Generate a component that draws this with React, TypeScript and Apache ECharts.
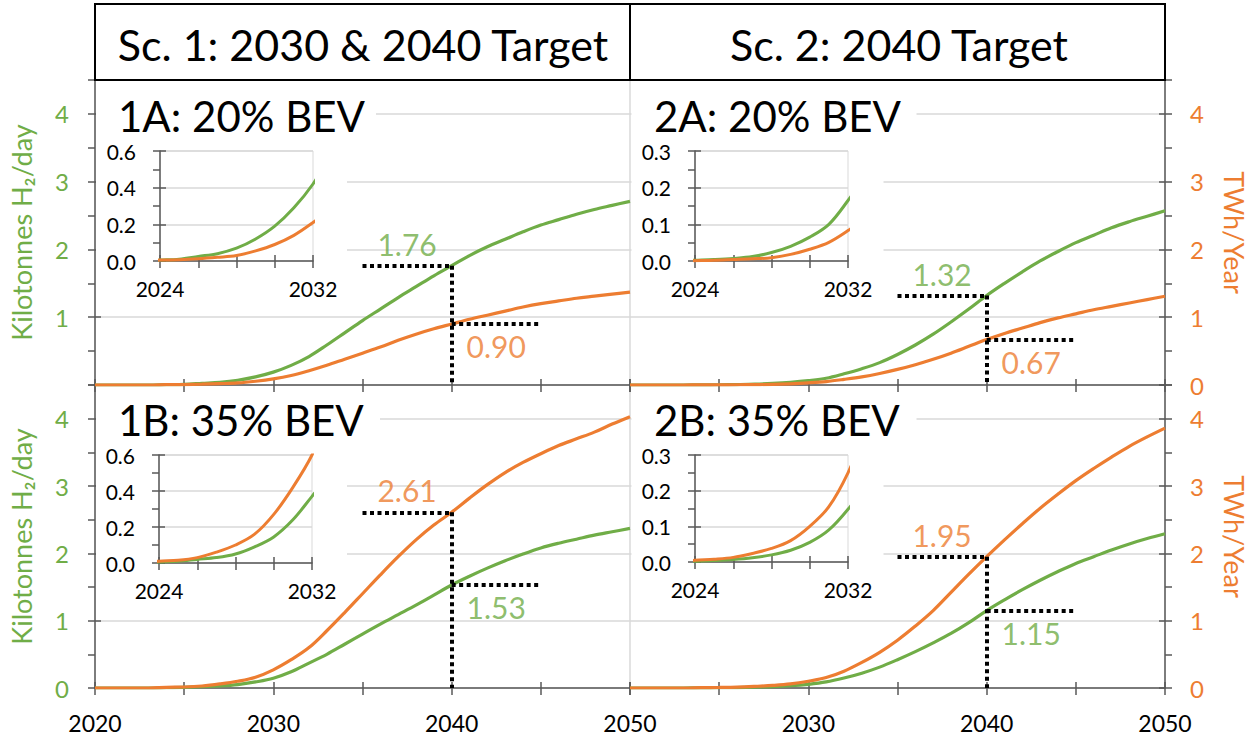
import React, { useEffect, useRef } from 'react';
import * as echarts from 'echarts';

// ---------------- DATA ----------------
const years = [2020, 2021, 2022, 2023, 2024, 2025, 2026, 2027, 2028, 2029, 2030, 2031, 2032, 2033, 2034, 2035, 2036, 2037, 2038, 2039, 2040, 2041, 2042, 2043, 2044, 2045, 2046, 2047, 2048, 2049, 2050];

// Kilotonnes H2/day (green) and TWh/Year (orange)
const green1A = [0, 0, 0, 0, 0.005, 0.01, 0.025, 0.04, 0.07, 0.12, 0.19, 0.29, 0.42, 0.59, 0.77, 0.95, 1.12, 1.29, 1.45, 1.61, 1.76, 1.91, 2.04, 2.15, 2.26, 2.36, 2.44, 2.52, 2.59, 2.65, 2.71];
const orange1A = [0, 0, 0, 0, 0.005, 0.007, 0.012, 0.02, 0.03, 0.055, 0.09, 0.14, 0.21, 0.29, 0.38, 0.47, 0.56, 0.66, 0.75, 0.83, 0.9, 0.97, 1.03, 1.09, 1.15, 1.2, 1.24, 1.28, 1.31, 1.34, 1.37];
const green1B = [0, 0, 0, 0, 0.005, 0.01, 0.02, 0.03, 0.05, 0.09, 0.145, 0.24, 0.37, 0.5, 0.65, 0.8, 0.95, 1.09, 1.23, 1.38, 1.53, 1.66, 1.78, 1.89, 1.99, 2.08, 2.15, 2.21, 2.27, 2.32, 2.37];
const orange1B = [0, 0, 0, 0, 0.01, 0.015, 0.03, 0.06, 0.1, 0.16, 0.27, 0.42, 0.6, 0.85, 1.12, 1.4, 1.68, 1.95, 2.2, 2.42, 2.61, 2.82, 3.02, 3.2, 3.35, 3.48, 3.6, 3.7, 3.8, 3.92, 4.03];
const green2A = [0, 0, 0, 0, 0.002, 0.004, 0.007, 0.012, 0.023, 0.04, 0.065, 0.1, 0.165, 0.24, 0.33, 0.45, 0.59, 0.75, 0.93, 1.12, 1.32, 1.5, 1.67, 1.83, 1.97, 2.1, 2.21, 2.32, 2.41, 2.49, 2.57];
const orange2A = [0, 0, 0, 0, 0.001, 0.002, 0.004, 0.006, 0.009, 0.018, 0.032, 0.051, 0.083, 0.12, 0.17, 0.23, 0.3, 0.38, 0.47, 0.57, 0.67, 0.76, 0.84, 0.92, 0.99, 1.05, 1.11, 1.16, 1.21, 1.26, 1.31];
const green2B = [0, 0, 0, 0, 0.002, 0.004, 0.007, 0.012, 0.02, 0.033, 0.055, 0.09, 0.148, 0.22, 0.31, 0.42, 0.54, 0.67, 0.81, 0.97, 1.15, 1.31, 1.46, 1.6, 1.73, 1.85, 1.95, 2.05, 2.14, 2.22, 2.29];
const orange2B = [0, 0, 0, 0, 0.005, 0.008, 0.013, 0.024, 0.038, 0.06, 0.1, 0.155, 0.25, 0.38, 0.53, 0.71, 0.92, 1.15, 1.42, 1.69, 1.95, 2.2, 2.44, 2.67, 2.88, 3.08, 3.26, 3.43, 3.59, 3.73, 3.86];

const panelNames = ['1A: 20% BEV', '1B: 35% BEV', '2A: 20% BEV', '2B: 35% BEV'];
const scenarioTitles = ['Sc. 1: 2030 & 2040 Target', 'Sc. 2: 2040 Target'];
const mainXLabels = [2020, 2030, 2040, 2050];
const mainYLabels = [0, 1, 2, 3, 4];
const insetXLabels = [2024, 2032];
const insetMaxes = [0.6, 0.6, 0.3, 0.3];
const insetSteps = [0.2, 0.2, 0.1, 0.1];
const targetYear = 2040;
const targetFromYear = 2035;
const targetToYear = 2045;
const leftAxisName = 'Kilotonnes H\u2082/day';
const rightAxisName = 'TWh/Year';

// ---------------- STYLE ----------------
const GREEN = '#70AD47';
const ORANGE = '#ED7D31';
const AXIS = '#595959';
const GRIDC = '#D9D9D9';
const FONT = 'Lato, "Noto Sans", sans-serif';

const panelLayout = [
  { grid: { left: 95, top: 80, width: 535, height: 305 }, inset: { left: 160, top: 151, width: 153, height: 110 }, side: 'left', bottom: false, hideZero: true, label: [118, 116], whites: [[96, 88, 280, 52], [96, 140, 251, 168]] },
  { grid: { left: 95, top: 385, width: 535, height: 303 }, inset: { left: 159, top: 455, width: 153, height: 108 }, side: 'left', bottom: true, hideZero: false, label: [118, 420], whites: [[96, 392, 284, 53], [96, 445, 251, 165]] },
  { grid: { left: 630, top: 80, width: 535, height: 305 }, inset: { left: 695, top: 151, width: 153, height: 110 }, side: 'right', bottom: false, hideZero: false, label: [654, 116], whites: [[631.5, 88, 285, 52], [631.5, 140, 252, 168]] },
  { grid: { left: 630, top: 385, width: 535, height: 303 }, inset: { left: 695, top: 455, width: 153, height: 107 }, side: 'right', bottom: true, hideZero: false, label: [654, 420], whites: [[631.5, 392, 285, 53], [631.5, 445, 252, 165]] },
];
const panelData = [
  [green1A, orange1A],
  [green1B, orange1B],
  [green2A, orange2A],
  [green2B, orange2B],
];

function near(a: number, b: number) {
  return Math.abs(a - b) < 1e-6;
}

function buildOption() {
  const grid: any[] = [];
  const xAxis: any[] = [];
  const yAxis: any[] = [];
  const series: any[] = [];
  const graphic: any[] = [];

  panelLayout.forEach((p, i) => {
    const [g, o] = panelData[i];
    const tIdx = years.indexOf(targetYear);
    const gv = g[tIdx];
    const ov = o[tIdx];
    const hi = Math.max(gv, ov);
    const lo = Math.min(gv, ov);
    const hiColor = gv >= ov ? GREEN : ORANGE;
    const loColor = gv >= ov ? ORANGE : GREEN;

    // ---- main grid ----
    const gi = grid.length;
    grid.push({ ...p.grid, show: true, borderColor: GRIDC, borderWidth: 1, backgroundColor: 'transparent', z: 0 });
    const xa = xAxis.length;
    xAxis.push({
      gridIndex: gi, type: 'value', min: 2020, max: 2050, interval: 5, position: 'bottom', z: 1,
      axisLine: { show: true, onZero: false, lineStyle: { color: AXIS, width: 1.5 } },
      axisTick: { show: true, length: 7, lineStyle: { color: AXIS, width: 1.5 } },
      axisLabel: {
        show: p.bottom, margin: 23, fontSize: 23, fontFamily: FONT, color: '#000',
        formatter: (v: number) => (mainXLabels.includes(v) && !(p.side === 'right' && v === 2020) ? String(v) : ''),
      },
      splitLine: { show: false },
    });
    xAxis.push({
      gridIndex: gi, type: 'value', min: 2020, max: 2050, interval: 5, position: 'bottom', z: 1,
      axisLine: { show: false, onZero: false },
      axisTick: { show: true, inside: true, length: 6, lineStyle: { color: AXIS, width: 1.5 } },
      axisLabel: { show: false },
      splitLine: { show: false },
    });
    const ya = yAxis.length;
    const isLeft = p.side === 'left';
    yAxis.push({
      gridIndex: gi, type: 'value', min: 0, max: 4.5, interval: 0.5, position: p.side, z: 1,
      axisLine: { show: true, onZero: false, lineStyle: { color: AXIS, width: 1.5 } },
      axisTick: { show: true, length: 7, lineStyle: { color: AXIS, width: 1.5 } },
      axisLabel: {
        show: true, margin: isLeft ? 26 : 25, fontSize: 24, fontFamily: FONT, color: isLeft ? GREEN : ORANGE,
        formatter: (v: number) => {
          const ok = mainYLabels.some((t) => near(t, v));
          if (!ok) return '';
          if (p.hideZero && near(v, 0)) return '';
          return String(Math.round(v));
        },
      },
      splitLine: { show: false },
      name: isLeft ? leftAxisName : rightAxisName,
      nameLocation: 'middle',
      nameGap: isLeft ? 60 : 56,
      nameRotate: isLeft ? 90 : -90,
      nameTextStyle: { color: isLeft ? GREEN : ORANGE, fontSize: 27, fontFamily: FONT },
    });
    yAxis.push({
      gridIndex: gi, type: 'value', min: 0, max: 4.5, interval: 1, position: p.side, z: 1,
      axisLine: { show: false, onZero: false },
      axisTick: { show: true, inside: true, length: 6, lineStyle: { color: AXIS, width: 1.5 } },
      axisLabel: { show: false },
      splitLine: { show: true, lineStyle: { color: GRIDC, width: 1.5 } },
    });

    const toPairs = (arr: number[]) => years.map((y, k) => [y, arr[k]]);
    series.push({
      type: 'line', xAxisIndex: xa, yAxisIndex: ya, data: toPairs(g), showSymbol: false, symbol: 'none',
      smooth: 0.35, color: GREEN, lineStyle: { color: GREEN, width: 3.2 }, z: 4, silent: true,
    });
    series.push({
      type: 'line', xAxisIndex: xa, yAxisIndex: ya, data: toPairs(o), showSymbol: false, symbol: 'none',
      smooth: 0.35, color: ORANGE, lineStyle: { color: ORANGE, width: 3.2 }, z: 4, silent: true,
      markLine: {
        silent: true, symbol: ['none', 'none'], animation: false,
        label: { show: false },
        lineStyle: { color: '#000', width: 4, type: [4, 3.5], cap: 'butt', opacity: 1 },
        emphasis: { disabled: true },
        data: [
          [{ coord: [targetFromYear, hi] }, { coord: [targetYear, hi] }],
          [{ coord: [targetYear, hi] }, { coord: [targetYear, 0] }],
          [{ coord: [targetYear, lo] }, { coord: [targetToYear, lo] }],
        ],
      },
    });
    series.push({
      type: 'scatter', xAxisIndex: xa, yAxisIndex: ya, symbolSize: 0, z: 8, silent: true,
      data: [
        { value: [(targetFromYear + targetYear) / 2, hi], label: { position: 'top', color: hiColor } },
        { value: [(targetYear + targetToYear) / 2, lo], label: { position: 'bottom', color: loColor } },
      ],
      label: {
        show: true, distance: 7, fontSize: 30, fontFamily: FONT,
        formatter: (d: any) => d.value[1].toFixed(2),
      },
    });

    // ---- white backgrounds behind panel label / inset ----
    p.whites.forEach((r) => {
      graphic.push({ type: 'rect', z: 3, silent: true, shape: { x: r[0], y: r[1], width: r[2], height: r[3] }, style: { fill: '#fff' } });
    });

    // ---- panel label ----
    graphic.push({
      type: 'text', z: 9, silent: true, x: p.label[0], y: p.label[1],
      style: { text: panelNames[i], fill: '#000', font: `42px ${FONT}`, align: 'left', verticalAlign: 'middle', textAlign: 'left', textVerticalAlign: 'middle' },
    });

    // ---- inset ----
    const ig = grid.length;
    grid.push({ ...p.inset, show: true, borderColor: GRIDC, borderWidth: 1, backgroundColor: '#fff', z: 5 });
    const ixa = xAxis.length;
    const ixCommon = { gridIndex: ig, type: 'value', min: 2024, max: 2032, interval: 2, position: 'bottom', z: 6 };
    xAxis.push({
      ...ixCommon,
      axisLine: { show: true, onZero: false, lineStyle: { color: AXIS, width: 1.5 } },
      axisTick: { show: true, length: 7, lineStyle: { color: AXIS, width: 1.5 } },
      axisLabel: {
        show: true, margin: 17, fontSize: 21, fontFamily: FONT, color: '#000',
        formatter: (v: number) => (insetXLabels.includes(v) ? String(v) : ''),
      },
      splitLine: { show: false },
    });
    xAxis.push({
      ...ixCommon,
      axisLine: { show: false, onZero: false },
      axisTick: { show: true, inside: true, length: 6, lineStyle: { color: AXIS, width: 1.5 } },
      axisLabel: { show: false },
      splitLine: { show: false },
    });
    const iya = yAxis.length;
    const step = insetSteps[i];
    const imax = insetMaxes[i];
    yAxis.push({
      gridIndex: ig, type: 'value', min: 0, max: imax, interval: step / 2, position: 'left', z: 6,
      axisLine: { show: true, onZero: false, lineStyle: { color: AXIS, width: 1.5 } },
      axisTick: { show: true, length: 7, lineStyle: { color: AXIS, width: 1.5 } },
      axisLabel: {
        show: true, margin: 24, fontSize: 21, fontFamily: FONT, color: '#000',
        formatter: (v: number) => (near(v / step, Math.round(v / step)) ? v.toFixed(1) : ''),
      },
      splitLine: { show: false },
    });
    yAxis.push({
      gridIndex: ig, type: 'value', min: 0, max: imax, interval: step, position: 'left', z: 6,
      axisLine: { show: false, onZero: false },
      axisTick: { show: true, inside: true, length: 6, lineStyle: { color: AXIS, width: 1.5 } },
      axisLabel: { show: false },
      splitLine: { show: true, lineStyle: { color: GRIDC, width: 1.5 } },
    });
    series.push({
      type: 'line', xAxisIndex: ixa, yAxisIndex: iya, data: toPairs(g), showSymbol: false, symbol: 'none',
      smooth: 0.35, clip: true, color: GREEN, lineStyle: { color: GREEN, width: 3 }, z: 7, silent: true,
    });
    series.push({
      type: 'line', xAxisIndex: ixa, yAxisIndex: iya, data: toPairs(o), showSymbol: false, symbol: 'none',
      smooth: 0.35, clip: true, color: ORANGE, lineStyle: { color: ORANGE, width: 3 }, z: 7, silent: true,
    });
  });

  // ---- scenario title boxes ----
  const boxes = [
    { x: 95, cx: 363 },
    { x: 630, cx: 899 },
  ];
  boxes.forEach((b, k) => {
    graphic.push({
      type: 'rect', z: 9, silent: true, shape: { x: b.x, y: 4, width: 535, height: 76 },
      style: { fill: 'none', stroke: '#000', lineWidth: 2 },
    });
    graphic.push({
      type: 'text', z: 9, silent: true, x: b.cx, y: 44,
      style: { text: scenarioTitles[k], fill: '#000', font: `43px ${FONT}`, align: 'center', verticalAlign: 'middle', textAlign: 'center', textVerticalAlign: 'middle' },
    });
  });

  return {
    animation: false,
    backgroundColor: '#fff',
    textStyle: { fontFamily: FONT },
    grid, xAxis, yAxis, series, graphic,
  };
}

export default function App() {
  const ref = useRef<HTMLDivElement>(null);
  useEffect(() => {
    if (!ref.current) return;
    const chart = echarts.init(ref.current, undefined, { renderer: 'svg' });
    chart.setOption(buildOption() as any);
    return () => chart.dispose();
  }, []);
  return <div ref={ref} style={{ position: 'fixed', left: 0, top: 0, width: 1257, height: 740, background: '#fff' }} />;
}
